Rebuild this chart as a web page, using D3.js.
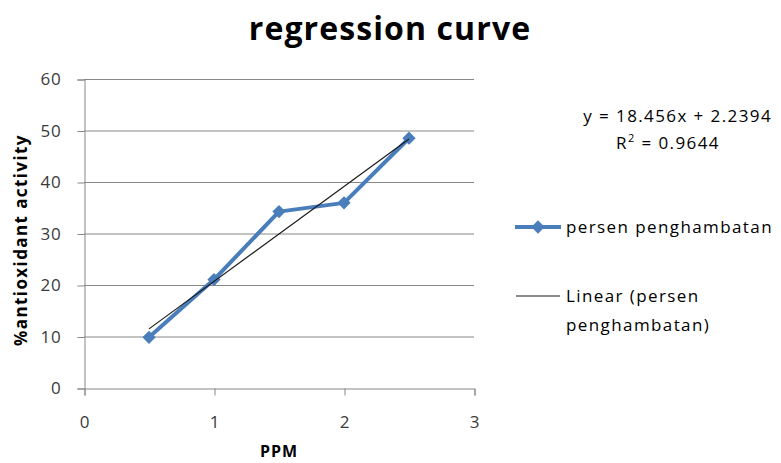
<!DOCTYPE html>
<html>
<head>
<meta charset="utf-8">
<script src="https://cdn.jsdelivr.net/npm/d3@7"></script>
<style>
  html, body { margin: 0; padding: 0; background: #fff; }
  svg { display: block; font-family: "Open Sans", "Liberation Sans", sans-serif; }
</style>
</head>
<body>
<svg id="chart" width="781" height="463"></svg>
<script>
(function () {
  "use strict";

  // values
  var ppm = [0.5, 1, 1.5, 2, 2.5];
  var inhibition = [9.85, 21.05, 34.25, 35.95, 48.5];
  var xTicks = [0, 1, 2, 3];
  var yTicks = [0, 10, 20, 30, 40, 50, 60];
  var equationText = "y = 18.456x + 2.2394";
  var rSquaredText = "0.9644";

  var svg = d3.select("#chart");
  var x = d3.scaleLinear().domain([0, 3]).range([84, 474]);
  var y = d3.scaleLinear().domain([0, 60]).range([388, 79]);
  var blue = "#4a7ebb";
  var grey = "#878787";
  var labelColour = "#3a3a3a";

  // least squares fit for the trend line
  var mx = d3.mean(ppm), my = d3.mean(inhibition);
  var slope = d3.sum(ppm, function (v, i) { return (v - mx) * (inhibition[i] - my); }) /
              d3.sum(ppm, function (v) { return (v - mx) * (v - mx); });
  var intercept = my - slope * mx;

  svg.append("text")
    .attr("x", 390).attr("y", 40)
    .attr("text-anchor", "middle")
    .attr("font-size", 32).attr("font-weight", "bold")
    .attr("letter-spacing", 1.1)
    .attr("fill", "#000")
    .text("regression curve");

  // grid
  svg.append("g").selectAll("line")
    .data(yTicks.slice(1))
    .enter().append("line")
    .attr("x1", x(0)).attr("x2", x(3))
    .attr("y1", function (d) { return y(d) + 0.5; })
    .attr("y2", function (d) { return y(d) + 0.5; })
    .attr("stroke", grey).attr("stroke-width", 1);

  var yAxis = svg.append("g")
    .attr("transform", "translate(" + (x(0) + 0.5) + ",0.5)")
    .call(d3.axisLeft(y).tickValues(yTicks).tickSize(7).tickPadding(16));
  var xAxis = svg.append("g")
    .attr("transform", "translate(0.5," + (y(0) + 0.5) + ")")
    .call(d3.axisBottom(x).tickValues(xTicks).tickFormat(d3.format("d")).tickSize(7).tickPadding(20));

  [yAxis, xAxis].forEach(function (axis) {
    axis.select(".domain").attr("stroke", grey);
    axis.selectAll(".tick line").attr("stroke", grey);
    axis.selectAll(".tick text")
      .attr("font-size", 17)
      .attr("letter-spacing", 0.8)
      .attr("fill", labelColour)
      .attr("font-family", "\"Open Sans\", sans-serif");
  });

  svg.append("text")
    .attr("transform", "translate(27,240) rotate(-90)")
    .attr("text-anchor", "middle")
    .attr("font-size", 17).attr("font-weight", "bold")
    .attr("letter-spacing", 1.4)
    .attr("fill", "#000")
    .text("%antioxidant activity");

  svg.append("text")
    .attr("x", 279).attr("y", 457)
    .attr("text-anchor", "middle")
    .attr("font-size", 16).attr("font-weight", "bold")
    .attr("letter-spacing", 1)
    .attr("fill", "#000")
    .text("PPM");

  // data series
  var line = d3.line()
    .x(function (d) { return x(d); })
    .y(function (d, i) { return y(inhibition[i]); });

  svg.append("path")
    .datum(ppm)
    .attr("d", line)
    .attr("fill", "none")
    .attr("stroke", blue)
    .attr("stroke-width", 4)
    .attr("stroke-linejoin", "round");

  // Excel style diamond: a square turned 45 degrees
  var diamond = d3.symbol().type(d3.symbolSquare).size(88);
  svg.append("g").selectAll("path")
    .data(ppm)
    .enter().append("path")
    .attr("d", diamond)
    .attr("transform", function (d, i) {
      return "translate(" + x(d) + "," + y(inhibition[i]) + ") rotate(45)";
    })
    .attr("fill", blue);

  // trend line
  var xr = d3.extent(ppm);
  svg.append("line")
    .attr("x1", x(xr[0])).attr("y1", y(slope * xr[0] + intercept))
    .attr("x2", x(xr[1])).attr("y2", y(slope * xr[1] + intercept))
    .attr("stroke", "#1a1a1a").attr("stroke-width", 1.2);

  // equation
  svg.append("text")
    .attr("x", 772).attr("y", 122)
    .attr("text-anchor", "end")
    .attr("font-size", 17).attr("letter-spacing", 1.4).attr("fill", "#000")
    .text(equationText);
  var r2 = svg.append("text")
    .attr("x", 668).attr("y", 149)
    .attr("text-anchor", "middle")
    .attr("font-size", 17).attr("letter-spacing", 1.4).attr("fill", "#000");
  r2.append("tspan").text("R");
  r2.append("tspan").attr("font-size", 11).attr("dy", -7).text("2");
  r2.append("tspan").attr("dy", 7).text(" = " + rSquaredText);

  // legend
  var legend = svg.append("g").attr("font-size", 17).attr("letter-spacing", 1.4).attr("fill", "#000");
  legend.append("line")
    .attr("x1", 515).attr("x2", 561).attr("y1", 227).attr("y2", 227)
    .attr("stroke", blue).attr("stroke-width", 4);
  legend.append("path")
    .attr("d", diamond)
    .attr("transform", "translate(538,227) rotate(45)")
    .attr("fill", blue);
  legend.append("text").attr("x", 566).attr("y", 233).text("persen penghambatan");

  legend.append("line")
    .attr("x1", 516).attr("x2", 560).attr("y1", 296).attr("y2", 296)
    .attr("stroke", "#1a1a1a").attr("stroke-width", 1.2);
  legend.append("text").attr("x", 566).attr("y", 302).text("Linear (persen");
  legend.append("text").attr("x", 566).attr("y", 331).text("penghambatan)");
}());
</script>
</body>
</html>
